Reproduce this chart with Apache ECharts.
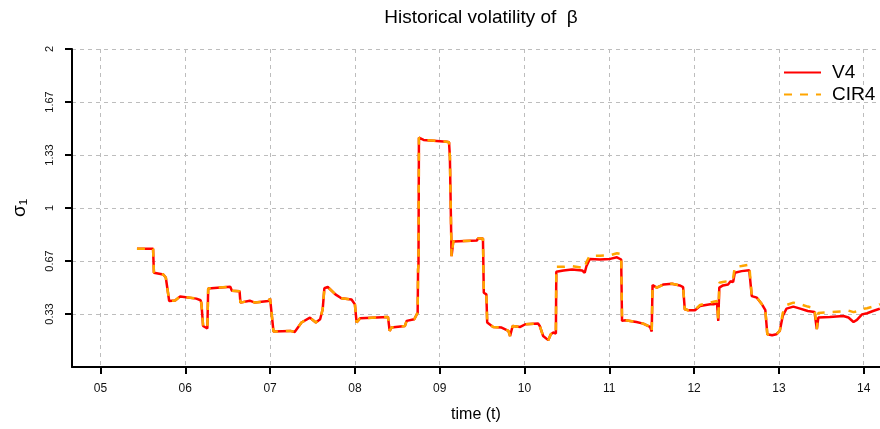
<!DOCTYPE html>
<html>
<head>
<meta charset="utf-8">
<script src="https://cdn.jsdelivr.net/npm/echarts@6/dist/echarts.min.js"></script>
<style>
  html, body { margin: 0; padding: 0; background: #fff; }
  #chart { width: 880px; height: 429px; }
</style>
</head>
<body>
<div id="chart"></div>
<script>
// time in decimal years
const time = [
  2005.43, 2005.62, 2005.63, 2005.74, 2005.77, 2005.81, 2005.88, 2005.94, 2006.13, 2006.18,
  2006.19, 2006.21, 2006.26, 2006.27, 2006.53, 2006.55, 2006.64, 2006.65, 2006.76, 2006.82,
  2006.98, 2007.00, 2007.04, 2007.24, 2007.29, 2007.37, 2007.47, 2007.54, 2007.59, 2007.62,
  2007.64, 2007.68, 2007.77, 2007.84, 2007.96, 2008.00, 2008.02, 2008.06, 2008.39, 2008.41,
  2008.43, 2008.59, 2008.61, 2008.70, 2008.74, 2008.745, 2008.75, 2008.755, 2008.81, 2009.08,
  2009.11, 2009.12, 2009.14, 2009.16, 2009.44, 2009.45, 2009.51, 2009.52, 2009.55, 2009.56,
  2009.57, 2009.63, 2009.73, 2009.81, 2009.83, 2009.86, 2009.95, 2010.01, 2010.16, 2010.18,
  2010.22, 2010.28, 2010.31, 2010.34, 2010.37, 2010.375, 2010.46, 2010.56, 2010.68, 2010.71,
  2010.73, 2010.77, 2010.89, 2011.01, 2011.09, 2011.14, 2011.15, 2011.19, 2011.32, 2011.40,
  2011.48, 2011.50, 2011.51, 2011.56, 2011.64, 2011.74, 2011.83, 2011.87, 2011.89, 2011.93,
  2012.01, 2012.07, 2012.19, 2012.23, 2012.27, 2012.285, 2012.297, 2012.34, 2012.40, 2012.43,
  2012.46, 2012.48, 2012.56, 2012.65, 2012.68, 2012.74, 2012.80, 2012.84, 2012.856, 2012.863,
  2012.92, 2012.97, 2013.01, 2013.045, 2013.09, 2013.17, 2013.25, 2013.34, 2013.42, 2013.447,
  2013.465, 2013.60, 2013.76, 2013.82, 2013.88, 2013.92, 2013.98, 2014.04, 2014.11, 2014.19
];
const v4 = [
  0.743, 0.743, 0.593, 0.582, 0.563, 0.415, 0.418, 0.444, 0.43, 0.42,
  0.40, 0.258, 0.242, 0.494, 0.505, 0.48, 0.477, 0.405, 0.417, 0.405,
  0.415, 0.43, 0.223, 0.227, 0.22, 0.28, 0.31, 0.28, 0.30, 0.363,
  0.495, 0.503, 0.457, 0.432, 0.425, 0.394, 0.28, 0.306, 0.315, 0.227,
  0.248, 0.258, 0.29, 0.30, 0.342, 0.613, 0.645, 1.442, 1.428, 1.417,
  1.413, 1.323, 0.697, 0.79, 0.795, 0.808, 0.808, 0.467, 0.457, 0.28,
  0.269, 0.252, 0.248, 0.227, 0.195, 0.258, 0.252, 0.269, 0.273, 0.258,
  0.195, 0.169, 0.206, 0.217, 0.21, 0.599, 0.607, 0.613, 0.607, 0.593,
  0.634, 0.68, 0.676, 0.68, 0.69, 0.676, 0.29, 0.294, 0.283, 0.273,
  0.252, 0.223, 0.515, 0.499, 0.519, 0.524, 0.513, 0.503, 0.363, 0.357,
  0.357, 0.383, 0.394, 0.394, 0.40, 0.29, 0.499, 0.513, 0.519, 0.54,
  0.534, 0.593, 0.603, 0.609, 0.446, 0.436, 0.394, 0.357, 0.352, 0.206,
  0.20, 0.206, 0.227, 0.321, 0.367, 0.38, 0.367, 0.352, 0.346, 0.238,
  0.311, 0.315, 0.321, 0.311, 0.283, 0.296, 0.331, 0.338, 0.352, 0.367
];
const cir4 = [
  0.743, 0.743, 0.593, 0.582, 0.563, 0.415, 0.418, 0.444, 0.43, 0.42,
  0.40, 0.258, 0.242, 0.494, 0.505, 0.48, 0.477, 0.405, 0.417, 0.405,
  0.415, 0.43, 0.223, 0.227, 0.22, 0.28, 0.31, 0.28, 0.30, 0.363,
  0.495, 0.503, 0.457, 0.432, 0.425, 0.394, 0.28, 0.306, 0.315, 0.227,
  0.248, 0.258, 0.29, 0.30, 0.342, 0.613, 0.645, 1.442, 1.428, 1.417,
  1.413, 1.323, 0.697, 0.79, 0.795, 0.808, 0.808, 0.467, 0.457, 0.28,
  0.269, 0.252, 0.248, 0.227, 0.195, 0.258, 0.252, 0.269, 0.273, 0.258,
  0.195, 0.169, 0.206, 0.217, 0.21, 0.63, 0.63, 0.635, 0.625, 0.62,
  0.66, 0.70, 0.70, 0.703, 0.715, 0.71, 0.29, 0.294, 0.283, 0.273,
  0.252, 0.223, 0.515, 0.499, 0.519, 0.524, 0.513, 0.503, 0.363, 0.357,
  0.36, 0.39, 0.405, 0.41, 0.415, 0.29, 0.53, 0.535, 0.54, 0.56,
  0.56, 0.63, 0.635, 0.644, 0.446, 0.436, 0.394, 0.357, 0.352, 0.206,
  0.20, 0.206, 0.227, 0.34, 0.39, 0.405, 0.395, 0.38, 0.37, 0.238,
  0.34, 0.345, 0.35, 0.355, 0.345, 0.35, 0.365, 0.37, 0.38, 0.395
];
const yearTicks = [2005, 2006, 2007, 2008, 2009, 2010, 2011, 2012, 2013, 2014];
const sigmaTicks = [1 / 3, 2 / 3, 1, 4 / 3, 5 / 3, 2];

const font = '"Liberation Sans", Arial, sans-serif';
const gridLine = { show: true, lineStyle: { color: '#bdbdbd', type: [4, 4], width: 1 } };

const myChart = echarts.init(document.getElementById('chart'));
const option = {
  animation: false,
  backgroundColor: '#fff',
  textStyle: { fontFamily: font },
  title: {
    text: 'Historical volatility of  β',
    left: 476,
    textAlign: 'center',
    top: 3,
    textStyle: { fontFamily: font, fontSize: 19, fontWeight: 'normal', color: '#000' }
  },
  grid: { left: 72, right: 0, top: 49, bottom: 62, outerBoundsMode: 'none', containLabel: false },
  legend: {
    orient: 'vertical',
    left: 778,
    top: 58,
    itemWidth: 37,
    itemHeight: 20,
    itemGap: 3,
    itemStyle: { color: 'transparent', borderWidth: 0, opacity: 0 },
    textStyle: { fontFamily: font, fontSize: 19, color: '#000', padding: [0, 0, 0, 6] },
    data: ['V4', 'CIR4']
  },
  xAxis: {
    type: 'value',
    min: 2004.664,
    max: 2014.192,
    name: 'time (t)',
    nameLocation: 'middle',
    nameGap: 40,
    nameTextStyle: { fontFamily: font, fontSize: 16, color: '#000' },
    axisLine: { show: true, onZero: false, lineStyle: { color: '#000', width: 2 } },
    axisTick: { show: true, length: 7, customValues: yearTicks, lineStyle: { color: '#000', width: 2 } },
    axisLabel: {
      customValues: yearTicks,
      margin: 16,
      fontSize: 12,
      color: '#111',
      formatter: v => String(Math.round(v) % 100).padStart(2, '0')
    },
    splitLine: gridLine
  },
  yAxis: {
    type: 'value',
    min: 0,
    max: 2,
    name: 'σ₁',
    nameLocation: 'middle',
    nameRotate: 90,
    nameGap: 43,
    nameTextStyle: { fontFamily: font, fontSize: 19, color: '#000' },
    axisLine: { show: true, lineStyle: { color: '#000', width: 2 } },
    axisTick: { show: true, length: 7, customValues: sigmaTicks, lineStyle: { color: '#000', width: 2 } },
    axisLabel: {
      customValues: sigmaTicks,
      rotate: 90,
      margin: 17,
      fontSize: 11,
      color: '#111',
      formatter: v => String(Math.round(v * 100) / 100)
    },
    splitLine: gridLine
  },
  series: [
    {
      name: 'V4',
      type: 'line',
      symbol: 'none',
      z: 2,
      lineStyle: { color: '#ff0000', width: 2.5 },
      itemStyle: { color: '#ff0000' },
      data: time.map((t, i) => [t, v4[i]])
    },
    {
      name: 'CIR4',
      type: 'line',
      symbol: 'none',
      z: 3,
      lineStyle: { color: '#ffa500', width: 2.5, type: [8, 8] },
      itemStyle: { color: '#ffa500' },
      data: time.map((t, i) => [t, cir4[i]])
    }
  ]
};
myChart.setOption(option);
</script>
</body>
</html>
